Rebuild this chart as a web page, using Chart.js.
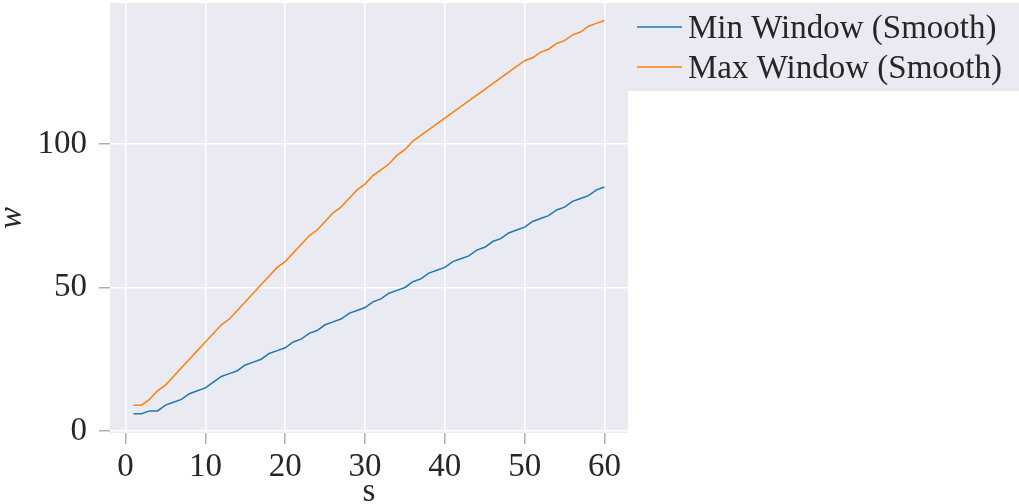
<!DOCTYPE html>
<html>
<head>
<meta charset="utf-8">
<script src="https://cdn.jsdelivr.net/npm/chart.js@4"></script>
<style>
  html, body { margin: 0; padding: 0; background: #ffffff; }
  #wrap { width: 1019px; height: 504px; }
</style>
</head>
<body>
<div id="wrap"><canvas id="c" width="1019" height="504"></canvas></div>
<script>
const sValues = [1,2,3,4,5,6,7,8,9,10,11,12,13,14,15,16,17,18,19,20,21,22,23,24,25,26,27,28,29,30,31,32,33,34,35,36,37,38,39,40,41,42,43,44,45,46,47,48,49,50,51,52,53,54,55,56,57,58,59,60];
const minWindow = [6,6,7,7,9,10,11,13,14,15,17,19,20,21,23,24,25,27,28,29,31,32,34,35,37,38,39,41,42,43,45,46,48,49,50,52,53,55,56,57,59,60,61,63,64,66,67,69,70,71,73,74,75,77,78,80,81,82,84,85];
const maxWindow = [9,9,11,14,16,19,22,25,28,31,34,37,39,42,45,48,51,54,57,59,62,65,68,70,73,76,78,81,84,86,89,91,93,96,98,101,103,105,107,109,111,113,115,117,119,121,123,125,127,129,130,132,133,135,136,138,139,141,142,143];
const seriesLabels = ["Min Window (Smooth)", "Max Window (Smooth)"];
const seriesColors = ["#1f77b4", "#ff7f0e"];
const xTicks = [0,10,20,30,40,50,60];
const yTicks = [0,50,100];
const xTitle = "s";
const yTitle = "w";

const FONT = "'Liberation Serif', 'Times New Roman', serif";
const TEXT = "#262626";
const BG = "#EAEAF2";

const bgPlugin = {
  id: 'bg',
  beforeDraw(chart) {
    const {ctx, chartArea: a} = chart;
    ctx.save();
    ctx.fillStyle = BG;
    ctx.fillRect(a.left, a.top, a.right - a.left, a.bottom - a.top);
    ctx.restore();
  }
};

const legendPlugin = {
  id: 'customLegend',
  afterDraw(chart) {
    const {ctx, chartArea: a} = chart;
    const left = a.right;
    ctx.save();
    ctx.fillStyle = BG;
    ctx.fillRect(left, a.top, chart.width - left, 88);
    ctx.font = "33px " + FONT;
    ctx.textBaseline = 'alphabetic';
    ctx.textAlign = 'left';
    chart.data.datasets.forEach((ds, i) => {
      const cy = a.top + 24 + i * 40;
      ctx.strokeStyle = ds.borderColor;
      ctx.lineWidth = 1.5;
      ctx.beginPath();
      ctx.moveTo(left + 9, cy);
      ctx.lineTo(left + 54, cy);
      ctx.stroke();
      ctx.fillStyle = TEXT;
      ctx.fillText(ds.label, left + 60, cy + 10.5);
    });
    ctx.restore();
  }
};

new Chart(document.getElementById('c'), {
  type: 'line',
  data: {
    datasets: [
      { label: seriesLabels[0], data: sValues.map((s, i) => ({x: s, y: minWindow[i]})), borderColor: seriesColors[0], backgroundColor: seriesColors[0], borderWidth: 1.5, pointRadius: 0, tension: 0, fill: false },
      { label: seriesLabels[1], data: sValues.map((s, i) => ({x: s, y: maxWindow[i]})), borderColor: seriesColors[1], backgroundColor: seriesColors[1], borderWidth: 1.5, pointRadius: 0, tension: 0, fill: false }
    ]
  },
  options: {
    responsive: false,
    animation: false,
    events: [],
    layout: { padding: { left: 0, right: 391, top: 3, bottom: 0 } },
    plugins: { legend: { display: false }, tooltip: { enabled: false } },
    scales: {
      x: {
        type: 'linear',
        min: -1.95, max: 62.95,
        afterBuildTicks(scale) { scale.ticks = xTicks.map(v => ({value: v})); },
        afterFit(scale) { scale.height = 71; scale.paddingLeft = 0; scale.paddingRight = 0; },
        border: { display: false },
        grid: { color: '#ffffff', lineWidth: 1.5, drawTicks: true, tickLength: 11, tickColor: '#b0b0b0', tickWidth: 1.5 },
        ticks: { font: { family: FONT, size: 33 }, color: TEXT, padding: 4, maxRotation: 0 },
        title: { display: true, text: xTitle, font: { family: FONT, size: 33, lineHeight: 1 }, color: TEXT, padding: { top: 0, bottom: -5 } }
      },
      y: {
        type: 'linear',
        min: -0.7, max: 149.1,
        afterBuildTicks(scale) { scale.ticks = yTicks.map(v => ({value: v})); },
        afterFit(scale) { scale.width = 110; scale.paddingTop = 0; scale.paddingBottom = 0; },
        border: { display: false },
        grid: { color: '#ffffff', lineWidth: 1.5, drawTicks: true, tickLength: 11, tickColor: '#b0b0b0', tickWidth: 1.5 },
        ticks: { font: { family: FONT, size: 33 }, color: TEXT, padding: 12 },
        title: { display: true, text: yTitle, font: { family: FONT, size: 33, style: 'italic', lineHeight: 1 }, color: TEXT, padding: { top: -4, bottom: 0 } }
      }
    }
  },
  plugins: [bgPlugin, legendPlugin]
});
</script>
</body>
</html>
